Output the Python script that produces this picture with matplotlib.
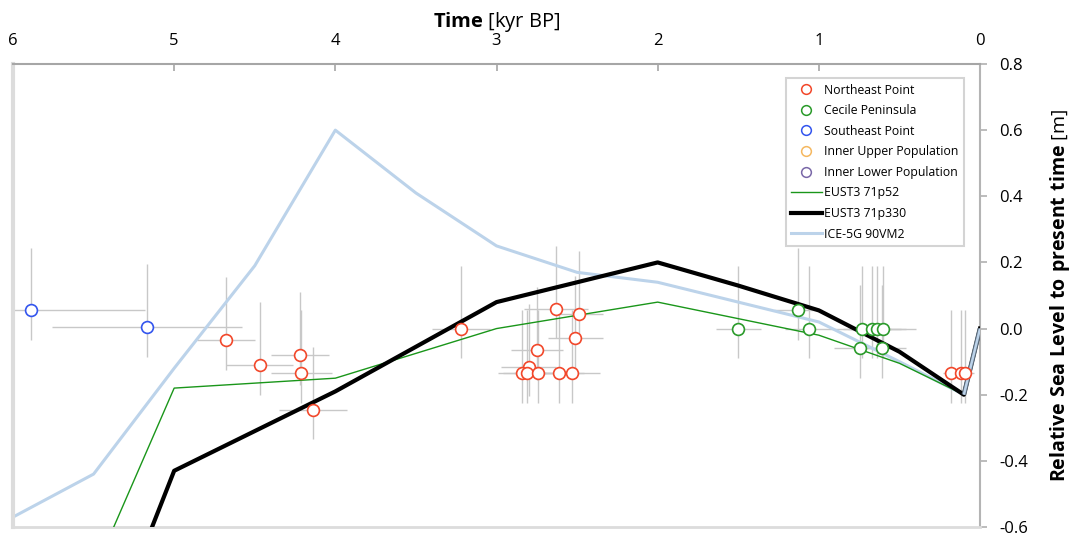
import matplotlib
matplotlib.use("Agg")
import matplotlib.pyplot as plt
from matplotlib.ticker import FixedLocator, FormatStrFormatter
from matplotlib.lines import Line2D

plt.rcParams['font.family'] = ['Open Sans', 'DejaVu Sans']
plt.rcParams['axes.unicode_minus'] = False
plt.rcParams['mathtext.fontset'] = 'custom'
plt.rcParams['mathtext.rm'] = 'Open Sans'
plt.rcParams['mathtext.bf'] = 'Open Sans:bold'

# ---------------- data ----------------
# Northeast Point
ne_t = [4.68, 4.47, 4.22, 4.21, 4.14, 3.22, 2.63, 2.49, 2.51, 2.75, 2.80, 2.84, 2.81, 2.74, 2.61, 2.53, 0.18, 0.12, 0.09]
ne_rsl = [-0.035, -0.11, -0.08, -0.135, -0.245, 0.0, 0.06, 0.045, -0.03, -0.065, -0.115, -0.135, -0.135, -0.135, -0.135, -0.135, -0.135, -0.135, -0.135]
ne_terr = [0.18, 0.21, 0.18, 0.19, 0.21, 0.18, 0.2, 0.15, 0.17, 0.16, 0.17, 0.15, 0.15, 0.15, 0.15, 0.17, 0.05, 0.05, 0.05]

# Cecile Peninsula
cp_t = [1.50, 1.13, 1.06, 0.745, 0.73, 0.67, 0.64, 0.60, 0.61]
cp_rsl = [0.0, 0.055, 0.0, -0.058, 0.0, 0.0, 0.0, 0.0, -0.058]
cp_terr = [0.14, 0.15, 0.15, 0.16, 0.18, 0.18, 0.18, 0.2, 0.15]

# Southeast Point
se_t = [5.89, 5.17]
se_rsl = [0.055, 0.005]
se_terr = [0.71, 0.59]

# vertical uncertainty (below, above)
rsl_err_low = 0.09
rsl_err_up = 0.19

# model curves
model_t = [6, 5.5, 5, 4.5, 4, 3.5, 3, 2.5, 2, 1.5, 1, 0.5, 0.1, 0]
eust_52 = [None, -0.74, -0.18, -0.165, -0.15, -0.075, 0.0, 0.04, 0.08, 0.03, -0.02, -0.105, -0.2, 0.0]
eust_330 = [None, -1.05, -0.43, -0.31, -0.19, -0.055, 0.08, 0.14, 0.2, 0.13, 0.055, -0.07, -0.2, 0.0]
ice5g = [-0.57, -0.44, -0.12, 0.19, 0.6, 0.41, 0.25, 0.17, 0.14, 0.08, 0.02, -0.1, -0.2, 0.0]

x_ticks = [6, 5, 4, 3, 2, 1, 0]
y_ticks = [-0.6, -0.4, -0.2, 0.0, 0.2, 0.4, 0.6, 0.8]

# ---------------- style ----------------
c_ne = '#f2472a'
c_cp = '#2a9a2a'
c_se = '#3355ee'
c_iu = '#f5b860'
c_il = '#7a68a8'
c_err = '#c8c8c8'
c_ice = '#bcd3ea'

fig = plt.figure(figsize=(10.72, 5.39), dpi=100)
ax = fig.add_axes([13/1072, 1 - 527/539, (980 - 13)/1072, (527 - 64)/539])

# error bars
for t, r, te in [(ne_t, ne_rsl, ne_terr), (cp_t, cp_rsl, cp_terr), (se_t, se_rsl, se_terr)]:
    ax.errorbar(t, r, xerr=te, yerr=[[rsl_err_low] * len(t), [rsl_err_up] * len(t)],
                fmt='none', ecolor=c_err, elinewidth=1.0, capsize=0, zorder=1)

def clean(ts, vs):
    pts = [(a, b) for a, b in zip(ts, vs) if b is not None]
    return [p[0] for p in pts], [p[1] for p in pts]

ax.plot(*clean(model_t, ice5g), color=c_ice, lw=2.2, zorder=2)
ax.plot(*clean(model_t, eust_52), color='#1a961a', lw=1.0, zorder=3)
ax.plot(*clean(model_t, eust_330), color='black', lw=3.0, zorder=4)
# the final segment of the ICE-5G curve sits on top of the others
ax.plot(model_t[-2:], ice5g[-2:], color='#5a6a7a', lw=3.4, zorder=4.4, solid_capstyle='butt')
ax.plot(model_t[-2:], ice5g[-2:], color=c_ice, lw=1.8, zorder=4.5, solid_capstyle='butt')

mk = dict(ls='none', marker='o', ms=8.5, mfc='white', mew=1.2, zorder=5)
ax.plot(ne_t, ne_rsl, mec=c_ne, **mk)
ax.plot(cp_t, cp_rsl, mec=c_cp, **mk)
ax.plot(se_t, se_rsl, mec=c_se, **mk)

ax.set_xlim(6, 0)
ax.set_ylim(-0.6, 0.8)
ax.xaxis.set_major_locator(FixedLocator(x_ticks))
ax.yaxis.set_major_locator(FixedLocator(y_ticks))
ax.yaxis.set_major_formatter(FormatStrFormatter('%.1f'))
ax.xaxis.set_major_formatter(FormatStrFormatter('%d'))

ax.xaxis.tick_top()
ax.xaxis.set_label_position('top')
ax.yaxis.tick_right()
ax.yaxis.set_label_position('right')
ax.tick_params(axis='x', direction='in', length=5, width=1.2, color='#a6a6a6',
               labelsize=12, pad=11, labelcolor='black')
ax.tick_params(axis='y', direction='out', length=5, width=1.2, color='#b0b0b0',
               labelsize=12, pad=9, labelcolor='black')

ax.spines['top'].set_color('#a6a6a6')
ax.spines['top'].set_linewidth(1.5)
ax.spines['right'].set_color('#b4b4b4')
ax.spines['right'].set_linewidth(1.5)
ax.spines['left'].set_color('#dcdcdc')
ax.spines['left'].set_linewidth(3)
ax.spines['bottom'].set_color('#dcdcdc')
ax.spines['bottom'].set_linewidth(2)

ax.set_xlabel(r'$\mathbf{Time}$ [kyr BP]', fontsize=14.5, labelpad=4)
ax.set_ylabel(r'$\mathbf{Relative\ Sea\ Level\ to\ present\ time}$ [m]', fontsize=14,
              labelpad=14, rotation=90)

# legend
mh = dict(ls='none', marker='o', ms=7, mfc='white', mew=1.1)
handles = [
    Line2D([], [], mec=c_ne, **mh),
    Line2D([], [], mec=c_cp, **mh),
    Line2D([], [], mec=c_se, **mh),
    Line2D([], [], mec=c_iu, **mh),
    Line2D([], [], mec=c_il, **mh),
    Line2D([], [], color='#1a961a', lw=1.0),
    Line2D([], [], color='black', lw=3.0),
    Line2D([], [], color=c_ice, lw=2.2),
]
labels = ['Northeast Point', 'Cecile Peninsula', 'Southeast Point', 'Inner Upper Population',
          'Inner Lower Population', 'EUST3 71p52', 'EUST3 71p330', 'ICE-5G 90VM2']
leg = ax.legend(handles, labels, loc='upper right',
                bbox_to_anchor=(1 - 16/967, 1 - 14/463), borderaxespad=0,
                fontsize=8.8, labelspacing=0.62, handlelength=2.5, handletextpad=0.2,
                borderpad=0.45, fancybox=False, framealpha=1, edgecolor='#d4d4d4')
leg.get_frame().set_linewidth(1.5)

fig.savefig('out.png', dpi=100)
